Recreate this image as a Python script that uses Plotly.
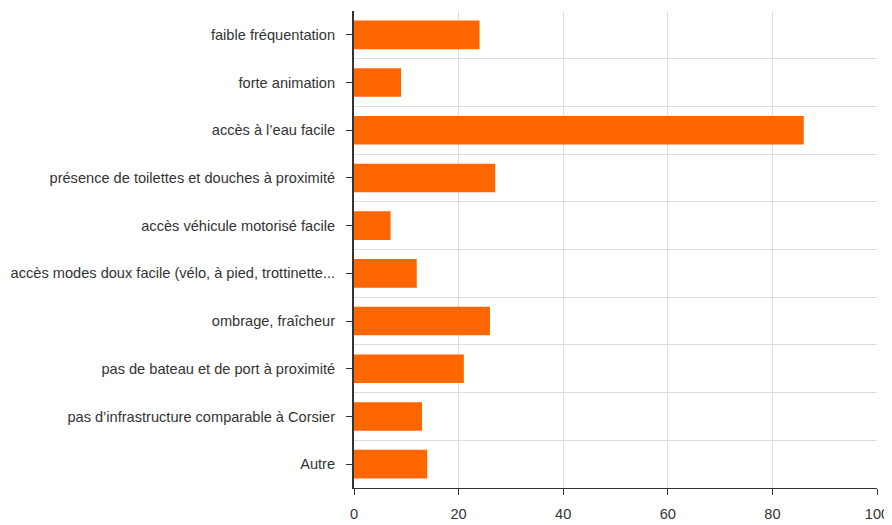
import plotly.graph_objects as go

categories = [
    "faible fréquentation",
    "forte animation",
    "accès à l’eau facile",
    "présence de toilettes et douches à proximité",
    "accès véhicule motorisé facile",
    "accès modes doux facile (vélo, à pied, trottinette...",
    "ombrage, fraîcheur",
    "pas de bateau et de port à proximité",
    "pas d’infrastructure comparable à Corsier",
    "Autre",
]
values = [24, 9, 86, 27, 7, 12, 26, 21, 13, 14]
x_ticks = [0, 20, 40, 60, 80, 100]

positions = list(range(len(categories)))

fig = go.Figure(
    go.Bar(
        x=values,
        y=positions,
        orientation="h",
        marker=dict(color="#ff6600", line=dict(width=0)),
        width=0.6,
    )
)

fig.update_layout(
    width=884,
    height=517,
    margin=dict(l=342, r=13, t=3, b=34),
    paper_bgcolor="white",
    plot_bgcolor="white",
    showlegend=False,
    font=dict(family="Liberation Sans, Arial, sans-serif", size=14.6, color="#333333"),
)

fig.update_xaxes(
    range=[0, 100],
    tickvals=x_ticks,
    showgrid=True,
    gridcolor="#dddddd",
    gridwidth=1,
    zeroline=False,
    showline=True,
    linecolor="#333333",
    linewidth=1,
    ticks="outside",
    ticklen=6,
    tickcolor="#333333",
    ticklabelstandoff=6,
    tickfont=dict(size=14.6, color="#333333"),
)

fig.update_yaxes(
    range=[len(categories) - 0.5, -0.5],
    tickvals=positions,
    ticktext=categories,
    showgrid=False,
    zeroline=False,
    showline=True,
    linecolor="#333333",
    linewidth=2,
    ticks="outside",
    ticklen=6,
    tickcolor="#333333",
    ticklabelstandoff=8,
    tickfont=dict(size=14.6, color="#333333"),
    minor=dict(
        tickvals=[p + 0.5 for p in positions[:-1]],
        showgrid=True,
        gridcolor="#dddddd",
        gridwidth=1,
        ticks="",
    ),
)

fig.write_html("out.html")
